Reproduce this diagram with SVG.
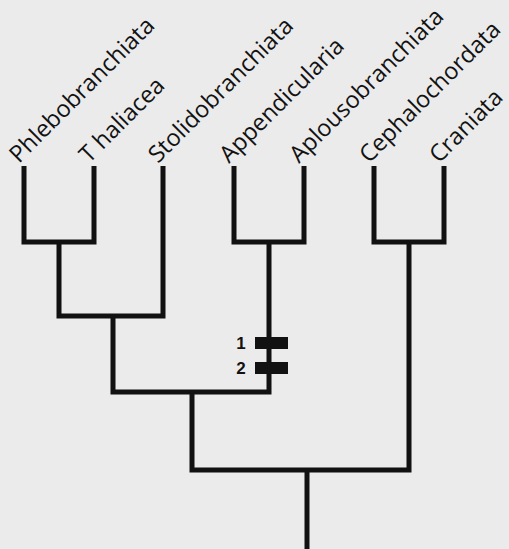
<svg xmlns="http://www.w3.org/2000/svg" width="509" height="549" viewBox="0 0 509 549">
  <style>
    .branch { fill: none; stroke: #111; stroke-width: 5; stroke-linejoin: miter; stroke-linecap: butt; }
    .taxon { font-family: "Open Sans", "Noto Sans", "DejaVu Sans", sans-serif; font-size: 23.5px; fill: #121212; }
    .char { font-family: "Liberation Sans", Arial, sans-serif; font-size: 17px; font-weight: bold; fill: #121212; text-anchor: middle; }
    .mark { fill: #111; }
  </style>
  <rect x="0" y="0" width="509" height="549" fill="#ebebeb"/>

  <!-- tree branches -->
  <g id="connectors">
    <path class="branch" d="M24,166 V242 H94 V166"/>
    <path class="branch" d="M59,242 V316 H163 V166"/>
    <path class="branch" d="M113,316 V392 H269 V242"/>
    <path class="branch" d="M234,166 V242 H304 V166"/>
    <path class="branch" d="M374,166 V242 H444 V166"/>
    <path class="branch" d="M192,392 V470 H409 V242"/>
    <path class="branch" d="M307,470 V549"/>
  </g>

  <!-- terminal taxa -->
  <g id="phlebobranchiata"><text class="taxon" transform="translate(19,164) rotate(-45)">Phlebobranchiata</text></g>
  <g id="thaliacea"><text class="taxon" transform="translate(89,164) rotate(-45)">T haliacea</text></g>
  <g id="stolidobranchiata"><text class="taxon" transform="translate(158,164) rotate(-45)">Stolidobranchiata</text></g>
  <g id="appendicularia"><text class="taxon" transform="translate(229,164) rotate(-45)">Appendicularia</text></g>
  <g id="aplousobranchiata"><text class="taxon" transform="translate(299,164) rotate(-45)">Aplousobranchiata</text></g>
  <g id="cephalochordata"><text class="taxon" transform="translate(369,164) rotate(-45)">Cephalochordata</text></g>
  <g id="craniata"><text class="taxon" transform="translate(439,164) rotate(-45)">Craniata</text></g>

  <!-- character state changes -->
  <g id="character-1">
    <rect class="mark" x="255" y="337" width="33" height="12"/>
    <text class="char" x="241" y="349">1</text>
  </g>
  <g id="character-2">
    <rect class="mark" x="255" y="362" width="33" height="12"/>
    <text class="char" x="241" y="374">2</text>
  </g>
</svg>
